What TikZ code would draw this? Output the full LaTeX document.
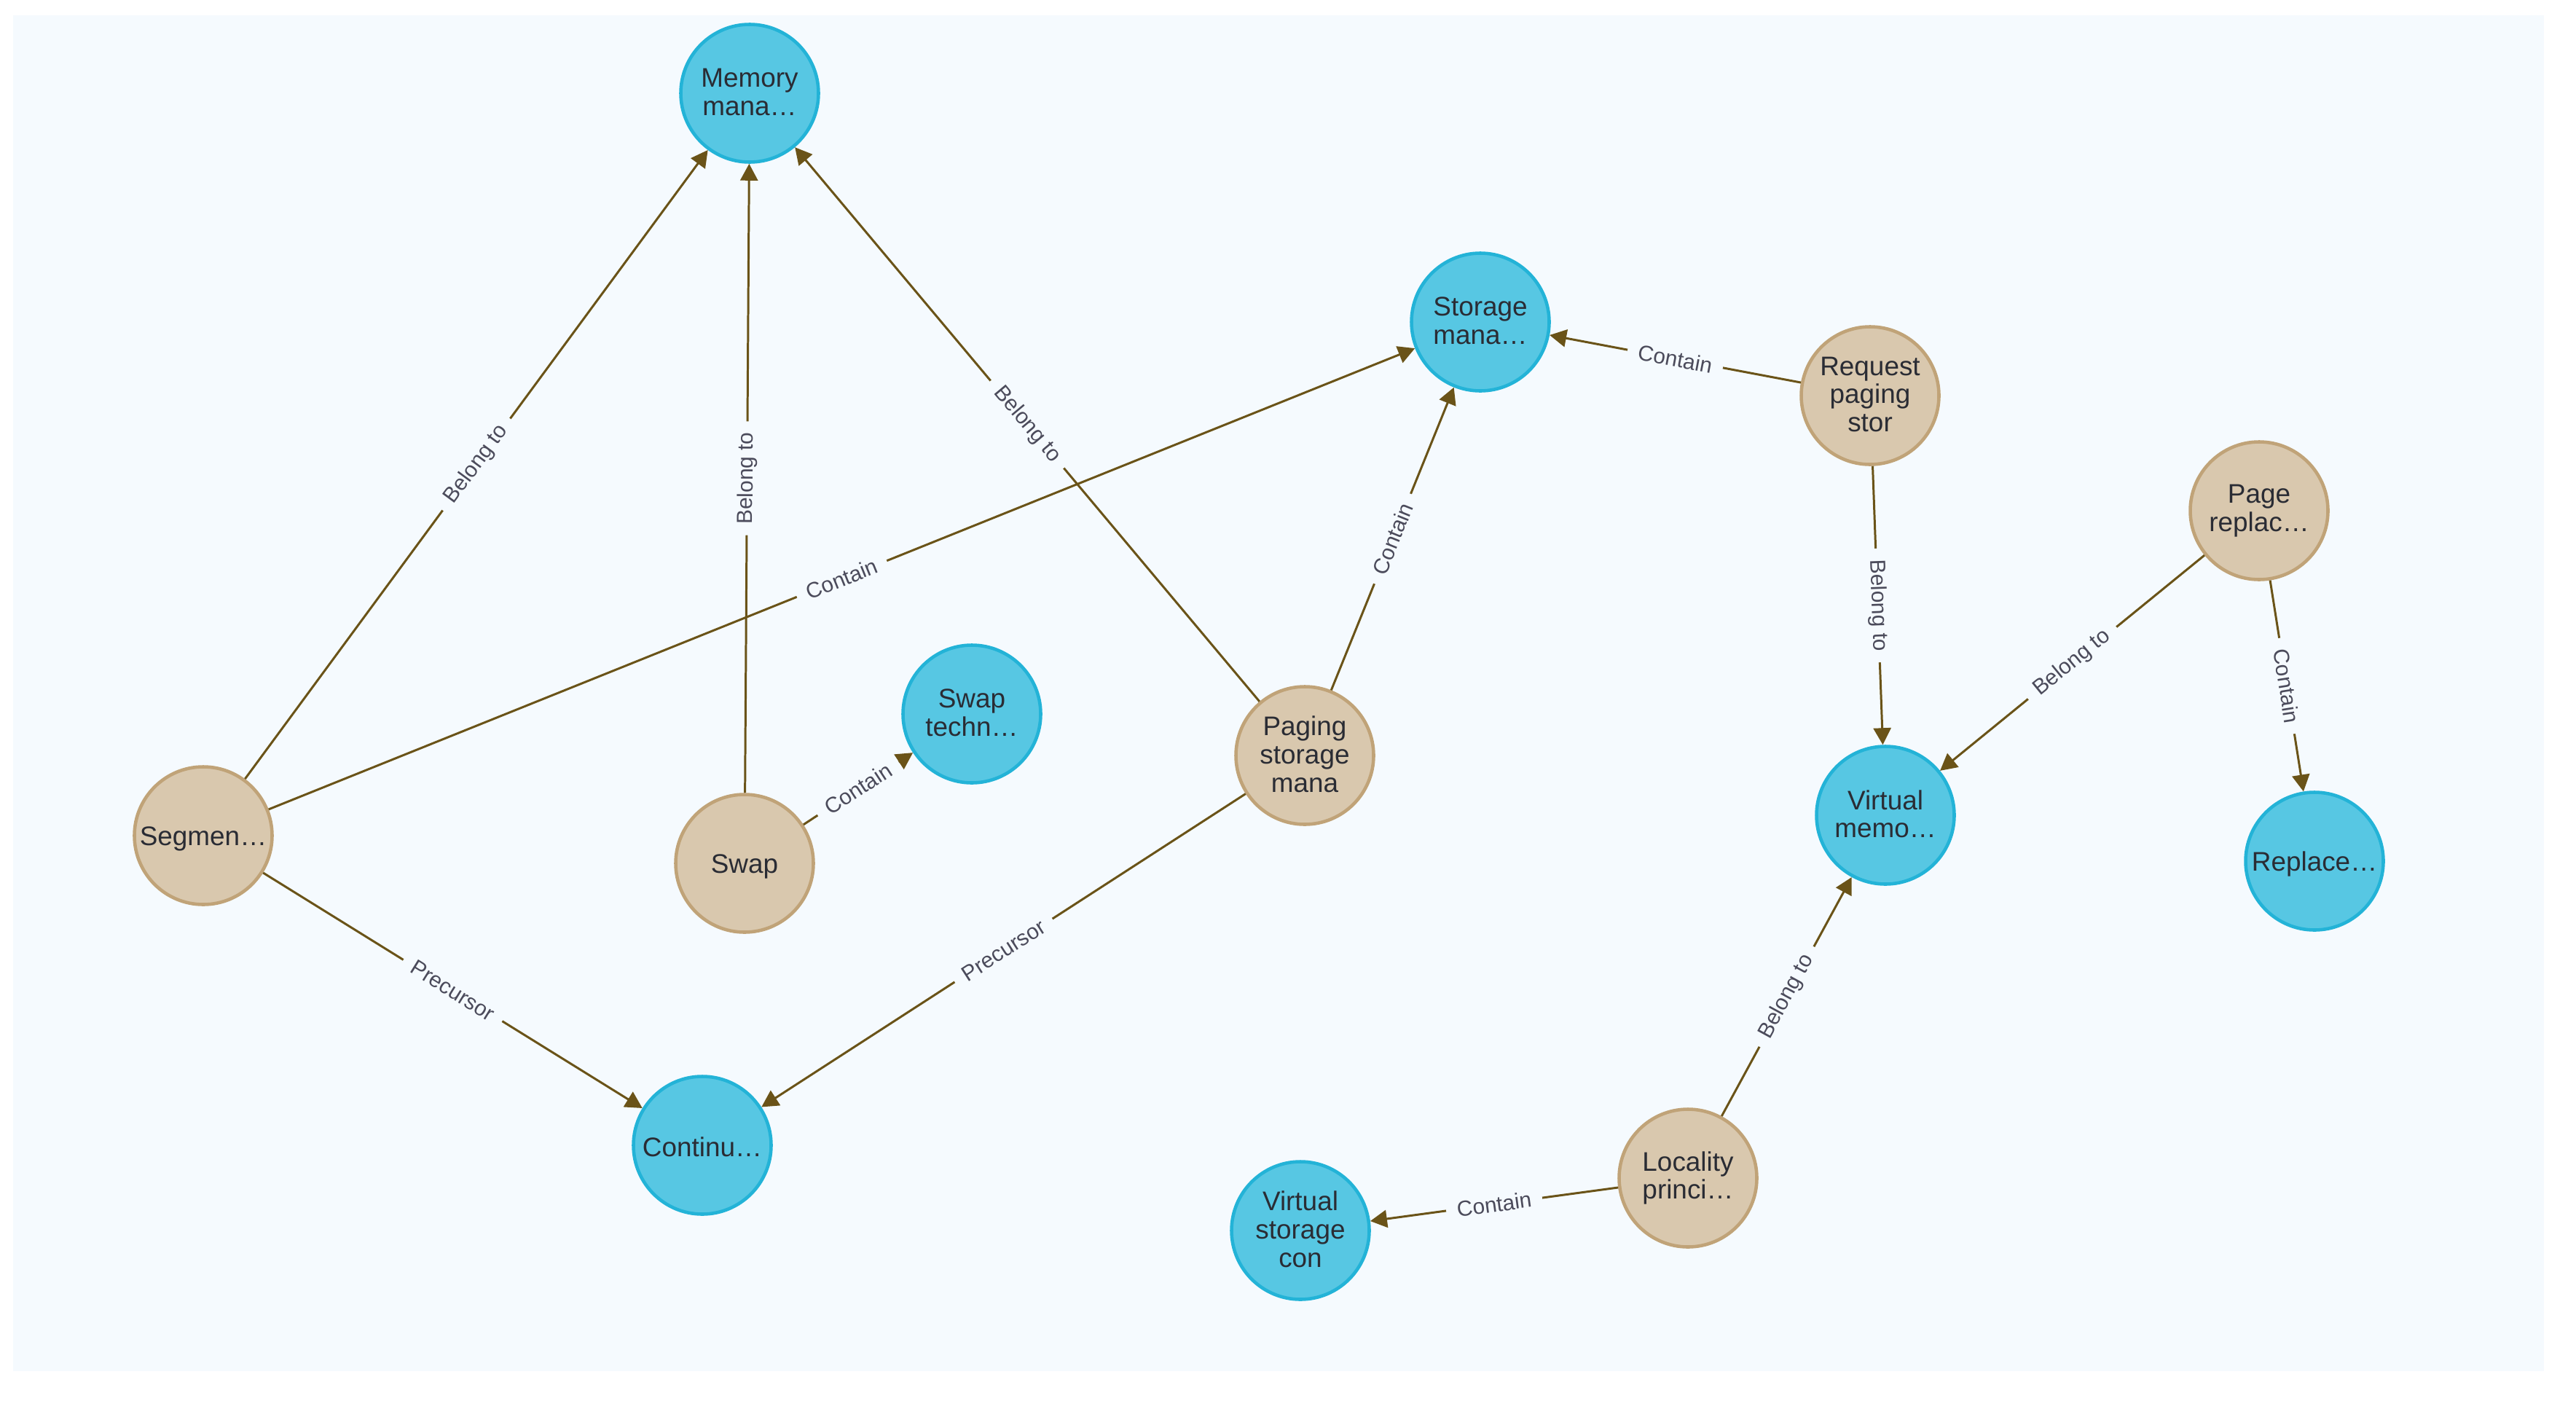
\documentclass[tikz,border=0pt]{standalone}
\usepackage{fontspec}
\setmainfont{Liberation Sans}
\usepackage{tikz}
\usetikzlibrary{arrows.meta}
\tikzset{>={Triangle[length=2.3mm,width=2.4mm]}}
\definecolor{bgcol}{HTML}{F5FAFE}
\definecolor{bfill}{HTML}{57C7E3}
\definecolor{bline}{HTML}{23B3D7}
\definecolor{tfill}{HTML}{D9C8AE}
\definecolor{tline}{HTML}{C0A378}
\definecolor{edgecol}{HTML}{6A5318}
\definecolor{txtcol}{HTML}{2A2C34}
\definecolor{lblcol}{HTML}{4B4B5B}

\begin{document}
\begin{tikzpicture}[main/.style = {draw, circle, line width=1.3pt, minimum size=1.89cm, inner sep=0pt, align=center, text=txtcol, font=\fontsize{10.5}{11}\selectfont,
        execute at begin node={\vrule height 10pt depth 0pt width 0pt}, execute at end node={\vrule height 0pt depth 1pt width 0pt}},
    bnode/.style = {main, draw=bline, fill=bfill},
    tnode/.style = {main, draw=tline, fill=tfill},
    edge/.style = {->, line width=0.85pt, draw=edgecol},
    lbl/.style = {sloped, fill=bgcol, text=lblcol, inner xsep=1.5mm, inner ysep=0.3mm, font=\fontsize{8.5}{9}\selectfont}]
\useasboundingbox (0,0) rectangle (35.36,-19.22);
\fill[bgcol] (0.18,-0.21) rectangle (34.92,-18.82);
    \node[bnode] (1) at (10.29,-1.28) {Memory\\mana…};
    \node[bnode] (2) at (20.32,-4.42) {Storage\\mana…};
    \node[tnode] (3) at (25.67,-5.43) {Request\\paging\\stor};
    \node[tnode] (4) at (31.01,-7.01) {Page\\replac…};
    \node[bnode] (5) at (13.34,-9.80) {Swap\\techn…};
    \node[tnode] (6) at (17.91,-10.37) {Paging\\storage\\mana};
    \node[tnode] (7) at (2.79,-11.47) {Segmen…};
    \node[tnode] (8) at (10.22,-11.85) {Swap};
    \node[bnode] (9) at (25.88,-11.19) {Virtual\\memo…};
    \node[bnode] (10) at (31.77,-11.82) {Replace…};
    \node[bnode] (11) at (9.64,-15.72) {Continu…};
    \node[tnode] (12) at (23.17,-16.17) {Locality\\princi…};
    \node[bnode] (13) at (17.85,-16.89) {Virtual\\storage\\con};
    \draw[edge] (7) to node[lbl] {Belong to} (1);
    \draw[edge] (8) to node[lbl] {Belong to} (1);
    \draw[edge] (6) to node[lbl] {Belong to} (1);
    \draw[edge] (7) to node[lbl] {Contain} (2);
    \draw[edge] (6) to node[lbl] {Contain} (2);
    \draw[edge] (3) to node[lbl] {Contain} (2);
    \draw[edge] (8) to node[lbl] {Contain} (5);
    \draw[edge] (7) to node[lbl] {Precursor} (11);
    \draw[edge] (6) to node[lbl] {Precursor} (11);
    \draw[edge] (3) to node[lbl] {Belong to} (9);
    \draw[edge] (4) to node[lbl] {Belong to} (9);
    \draw[edge] (4) to node[lbl] {Contain} (10);
    \draw[edge] (12) to node[lbl] {Belong to} (9);
    \draw[edge] (12) to node[lbl] {Contain} (13);
\end{tikzpicture}
\end{document}
